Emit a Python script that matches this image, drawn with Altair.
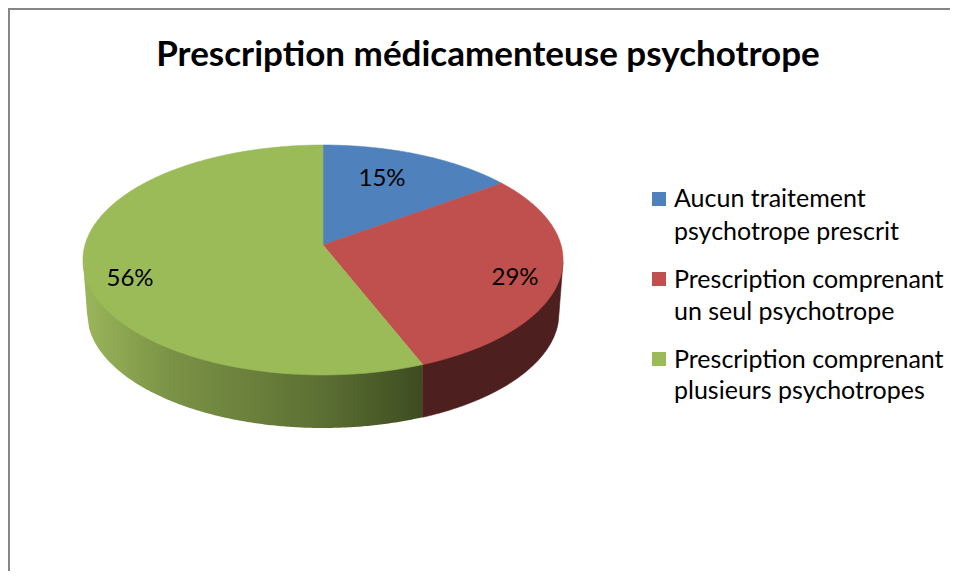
import numpy as np
import pandas as pd
import altair as alt

title = "Prescription médicamenteuse psychotrope"
shares = [0.15, 0.29, 0.56]
pct_labels = ["15%", "29%", "56%"]
pct_x = [382, 515, 130]
pct_y = [179, 278, 279]
colors = ["#4F81BD", "#C0504D", "#9BBB59"]
legend_y = [199, 279, 359]
legend_colors = colors
legend_lines = ["Aucun traitement", "psychotrope prescrit",
                "Prescription comprenant", "un seul psychotrope",
                "Prescription comprenant", "plusieurs psychotropes"]
legend_line_y = [199, 232, 280, 312, 360, 391]

# pie geometry: perspective view of a disc
CX, VY, AX, AY, K = 323.0, 245.0, 238.0, 113.0, 0.1304
BCY, BRX, BRY = 313.0, 236.0, 115.0


def rim(theta):
    u, v = np.sin(theta), np.cos(theta)
    d = 1 + K * v
    return CX + AX * u / d, VY - AY * v / d


def wedge(start, end):
    t = np.linspace(start, end, 160) * 2 * np.pi
    x, y = rim(t)
    return np.r_[CX, x, CX], np.r_[VY, y, VY]


def wall(x0, x1, top_y0, top_y1):
    xs = np.linspace(max(x0, CX - BRX), min(x1, CX + BRX), 160)
    ys = BCY + BRY * np.sqrt(np.clip(1 - ((xs - CX) / BRX) ** 2, 0, 1))
    return np.r_[x0, xs, x1, x0], np.r_[top_y0, ys, top_y1, top_y0]


X = alt.X("x:Q", axis=None, scale=alt.Scale(domain=[8, 950], nice=False, zero=False))
Y = alt.Y("y:Q", axis=None, scale=alt.Scale(domain=[571, 8], nice=False, zero=False))


def poly(xs, ys, fill, stroke):
    df = pd.DataFrame({"x": xs, "y": ys, "i": np.arange(len(xs))})
    return alt.Chart(df).mark_line(fill=fill, stroke=stroke, strokeWidth=0.6).encode(
        x=X, y=Y, order=alt.Order("i:Q"))


cuts = np.cumsum([0] + shares)
sep_x, sep_y = rim(cuts[2] * 2 * np.pi)

green_grad = alt.Gradient(
    gradient="linear", x1=0, x2=1, y1=0, y2=0,
    stops=[alt.GradientStop(offset=0, color="#9BB65A"),
           alt.GradientStop(offset=0.25, color="#7B9346"),
           alt.GradientStop(offset=0.7, color="#5C7033"),
           alt.GradientStop(offset=1, color="#3D4C20")])

layers = []
gx, gy = wall(CX - 240, float(sep_x), 262, float(sep_y))
layers.append(poly(gx, gy, green_grad, None))
rx, ry = wall(float(sep_x), CX + 240, float(sep_y), 262)
layers.append(poly(rx, ry, "#4D1F1E", "#4D1F1E"))

for i, c in enumerate(colors):
    wx, wy = wedge(cuts[i], cuts[i + 1])
    layers.append(poly(wx, wy, c, c))

pct_df = pd.DataFrame({"x": pct_x, "y": pct_y, "t": pct_labels})
layers.append(alt.Chart(pct_df).mark_text(font="Lato", fontSize=24, color="#000000").encode(
    x=X, y=Y, text="t:N"))

sw_df = pd.DataFrame({"x": [659] * 3, "y": legend_y, "c": legend_colors})
layers.append(alt.Chart(sw_df).mark_square(size=196, opacity=1).encode(
    x=X, y=Y, color=alt.Color("c:N", scale=None)))

leg_df = pd.DataFrame({"x": [674] * 6, "y": legend_line_y, "t": legend_lines})
layers.append(alt.Chart(leg_df).mark_text(font="Lato", fontSize=25, align="left", color="#000000").encode(
    x=X, y=Y, text="t:N"))

title_df = pd.DataFrame({"x": [488], "y": [55], "t": [title]})
layers.append(alt.Chart(title_df).mark_text(font="Lato", fontSize=35, fontWeight="bold", color="#000000").encode(
    x=X, y=Y, text="t:N"))

top_df = pd.DataFrame({"x": [8], "x2": [950], "y": [9]})
layers.append(alt.Chart(top_df).mark_rule(color="#868686", strokeWidth=2).encode(
    x=X, x2="x2:Q", y=Y))
left_df = pd.DataFrame({"x": [9], "y": [8], "y2": [571]})
layers.append(alt.Chart(left_df).mark_rule(color="#868686", strokeWidth=2).encode(
    x=X, y=Y, y2="y2:Q"))

chart = alt.layer(*layers).properties(
    width=942, height=563, padding=0, background="#FFFFFF",
    autosize=alt.AutoSizeParams(type="none")
).configure_view(stroke=None)

chart.save("out.html", embed_options={"renderer": "svg", "actions": False})
